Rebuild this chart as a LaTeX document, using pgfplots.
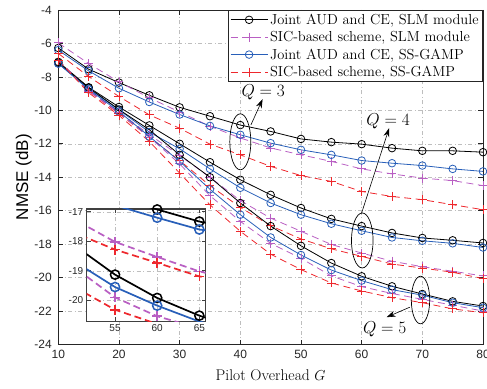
\documentclass[border=0pt]{standalone}
\usepackage{fontspec}
\usepackage{pgfplots}
\usepackage{pgfplotstable}
\pgfplotsset{compat=1.18}
\usetikzlibrary{arrows.meta}
\newfontfamily\arial{Liberation Sans}

\definecolor{slmpurple}{RGB}{185,95,195}
\definecolor{gampblue}{RGB}{40,95,185}
\definecolor{sicred}{RGB}{238,40,45}
\definecolor{gridgray}{RGB}{190,190,190}

% NMSE (dB) versus pilot overhead G
% a = joint AUD and CE (SLM), b = SIC-based (SLM), c = joint AUD and CE (SS-GAMP), d = SIC-based (SS-GAMP)
\pgfplotstableread{
G   a3     b3     c3     d3     a4     b4     c4     d4     a5     b5     c5     d5
10  -6.27  -5.97  -6.40  -6.60  -7.10  -7.00  -7.20  -7.00  -7.15  -7.00  -7.20  -7.00
15  -7.54  -7.20  -7.64  -7.98  -8.62  -8.80  -8.70  -8.85  -8.65  -8.85  -8.75  -8.95
20  -8.34  -8.30  -8.68  -9.17  -9.80  -10.10 -9.97  -10.20 -9.95  -10.15 -10.07 -10.30
25  -9.10  -9.25  -9.50  -10.27 -10.90 -11.45 -11.30 -11.60 -11.16 -11.60 -11.56 -11.86
30  -9.82  -10.10 -10.25 -11.07 -12.00 -12.70 -12.30 -13.00 -12.66 -13.20 -13.05 -13.75
35  -10.35 -10.95 -10.93 -12.02 -13.10 -14.00 -13.50 -14.50 -14.00 -15.10 -14.72 -15.65
40  -10.88 -11.65 -11.46 -12.66 -14.15 -15.40 -14.63 -15.80 -15.54 -16.64 -16.24 -17.23
45  -11.26 -12.25 -11.96 -13.35 -15.05 -16.44 -15.54 -16.90 -16.92 -17.95 -17.60 -18.60
50  -11.71 -12.66 -12.36 -13.90 -15.84 -17.23 -16.24 -17.69 -18.10 -18.85 -18.65 -19.52
55  -11.90 -13.05 -12.66 -14.25 -16.49 -18.02 -16.78 -18.28 -19.13 -19.90 -19.55 -20.32
60  -12.02 -13.50 -13.00 -14.85 -16.92 -18.53 -17.20 -18.73 -19.92 -20.54 -20.18 -20.80
65  -12.26 -13.80 -13.16 -15.15 -17.33 -19.02 -17.60 -19.19 -20.52 -20.95 -20.72 -21.20
70  -12.42 -14.05 -13.30 -15.34 -17.63 -19.35 -17.80 -19.43 -20.98 -21.30 -21.05 -21.50
75  -12.42 -14.20 -13.50 -15.64 -17.77 -19.62 -17.95 -19.68 -21.42 -21.65 -21.50 -21.87
80  -12.50 -14.50 -13.65 -15.94 -17.93 -19.90 -18.20 -20.06 -21.70 -22.00 -21.80 -22.10
}\nmsedata

\pgfplotsset{
  slmjoint/.style={black, line width=0.8pt, mark=o, mark size=3.8pt, mark options={solid, line width=0.8pt}},
  slmsic/.style={slmpurple, line width=0.8pt, dash pattern=on 7pt off 4.5pt, mark=+, mark size=4.5pt, mark options={solid, line width=0.9pt}},
  gampjoint/.style={gampblue, line width=0.8pt, mark=o, mark size=3.8pt, mark options={solid, line width=0.8pt}},
  gampsic/.style={sicred, line width=0.8pt, dash pattern=on 7pt off 4.5pt, mark=+, mark size=4.5pt, mark options={solid, line width=0.9pt}},
}

\begin{document}
\begin{tikzpicture}
\begin{axis}[
  name=main,
  scale only axis,
  width=424.7pt, height=334.5pt,
  xmin=10, xmax=80, ymin=-24, ymax=-4,
  xtick={10,20,...,80}, ytick={-24,-22,...,-4},
  tick align=inside, major tick length=5pt,
  axis line style={line width=0.9pt, black!85},
  every tick/.style={black!85, line width=0.7pt},
  grid=major,
  grid style={gridgray, line width=0.6pt, dash pattern=on 4pt off 2.5pt on 1pt off 2.5pt},
  /pgf/number format/assume math mode=true,
  tick label style={font=\arial\fontsize{12}{14}\selectfont, black!85},
  xticklabel style={yshift=-2.5pt},
  yticklabel style={xshift=-3pt},
  xlabel={Pilot Overhead $G$},
  ylabel={\arial NMSE (dB)},
  every axis x label/.style={at={(rel axis cs:0.5,0)}, yshift=-30.5pt, anchor=center, font=\fontsize{15.5}{18}\selectfont},
  every axis y label/.style={at={(rel axis cs:0,0.5)}, xshift=-34.5pt, rotate=90, anchor=center, font=\fontsize{17}{20}\selectfont},
  legend style={at={(rel axis cs:1,1)}, anchor=north east, font=\fontsize{14.5}{17}\selectfont,
    draw=black!85, line width=0.8pt, inner xsep=2pt, inner ysep=1.5pt, row sep=1.6pt, cells={anchor=west}, fill=white},
  legend image code/.code={\draw[mark repeat=2, mark phase=2] plot coordinates {(0pt,0pt) (18.5pt,0pt) (37pt,0pt)};},
]
% legend-bearing curves (Q = 3)
\addplot[slmjoint]  table[x=G, y=a3] {\nmsedata};
\addlegendentry{Joint AUD and CE, SLM module}
\addplot[slmsic]    table[x=G, y=b3] {\nmsedata};
\addlegendentry{SIC-based scheme, SLM module}
\addplot[gampjoint] table[x=G, y=c3] {\nmsedata};
\addlegendentry{Joint AUD and CE, SS-GAMP}
\addplot[gampsic]   table[x=G, y=d3] {\nmsedata};
\addlegendentry{SIC-based scheme, SS-GAMP}
% Q = 4
\addplot[slmjoint, forget plot]  table[x=G, y=a4] {\nmsedata};
\addplot[slmsic, forget plot]    table[x=G, y=b4] {\nmsedata};
\addplot[gampjoint, forget plot] table[x=G, y=c4] {\nmsedata};
\addplot[gampsic, forget plot]   table[x=G, y=d4] {\nmsedata};
% Q = 5
\addplot[slmjoint, forget plot]  table[x=G, y=a5] {\nmsedata};
\addplot[slmsic, forget plot]    table[x=G, y=b5] {\nmsedata};
\addplot[gampjoint, forget plot] table[x=G, y=c5] {\nmsedata};
\addplot[gampsic, forget plot]   table[x=G, y=d5] {\nmsedata};

% annotations
\draw[line width=0.7pt] (axis cs:40,-11.88) ellipse [x radius=10.5pt, y radius=28pt];
\draw[line width=0.6pt, -{Stealth[length=9pt, width=6pt]}] (axis cs:41.75,-10.87) -- (axis cs:43.67,-9.33);
\node[font=\fontsize{17}{20}\selectfont] at (axis cs:43.77,-8.94) {$Q=3$};

\draw[line width=0.7pt] (axis cs:60.1,-17.78) ellipse [x radius=10.8pt, y radius=27.5pt];
\draw[line width=0.6pt, -{Stealth[length=9pt, width=6pt]}] (axis cs:59.98,-16.15) -- (axis cs:64.53,-11.06);
\node[font=\fontsize{17}{20}\selectfont] at (axis cs:64.37,-10.67) {$Q=4$};

\draw[line width=0.7pt] (axis cs:69.7,-21.34) ellipse [x radius=9.2pt, y radius=23.8pt];
\draw[line width=0.6pt, -{Stealth[length=9pt, width=6pt]}] (axis cs:67.93,-21.77) -- (axis cs:64.1,-22.37);
\node[font=\fontsize{17}{20}\selectfont] at (axis cs:63.8,-23.1) {$Q=5$};

\coordinate (insetpos) at (axis cs:14.68,-22.61);
\end{axis}

% zoomed view of G = 52..65
\begin{axis}[
  at={(insetpos)}, anchor=south west,
  scale only axis,
  width=118.8pt, height=112.4pt,
  xmin=51.64, xmax=65.73, ymin=-20.71, ymax=-16.9,
  xtick={55,60,65}, ytick={-20,-19,-18,-17},
  tick align=inside, major tick length=4pt,
  axis background/.style={fill=white},
  axis line style={line width=1.3pt, black!75},
  every tick/.style={black!75, line width=0.7pt},
  grid=major,
  grid style={gridgray, line width=0.6pt, dash pattern=on 4pt off 2.5pt on 1pt off 2.5pt},
  /pgf/number format/assume math mode=true,
  tick label style={font=\arial\fontsize{10}{12}\selectfont, black!85},
]
\addplot[slmjoint, line width=1.7pt, mark size=4.6pt, mark options={solid, line width=1.5pt}]  table[x=G, y=a4] {\nmsedata};
\addplot[slmsic, line width=1.7pt, mark size=5pt, mark options={solid, line width=1.6pt}, dash pattern=on 7pt off 4pt] table[x=G, y=b4] {\nmsedata};
\addplot[gampjoint, line width=1.7pt, mark size=4.6pt, mark options={solid, line width=1.5pt}] table[x=G, y=c4] {\nmsedata};
\addplot[gampsic, line width=1.7pt, mark size=5pt, mark options={solid, line width=1.6pt}, dash pattern=on 7pt off 4pt] table[x=G, y=d4] {\nmsedata};
\addplot[slmjoint, line width=1.7pt, mark size=4.6pt, mark options={solid, line width=1.5pt}]  table[x=G, y=a5] {\nmsedata};
\addplot[slmsic, line width=1.7pt, mark size=5pt, mark options={solid, line width=1.6pt}, dash pattern=on 7pt off 4pt] table[x=G, y=b5] {\nmsedata};
\addplot[gampjoint, line width=1.7pt, mark size=4.6pt, mark options={solid, line width=1.5pt}] table[x=G, y=c5] {\nmsedata};
\addplot[gampsic, line width=1.7pt, mark size=5pt, mark options={solid, line width=1.6pt}, dash pattern=on 7pt off 4pt] table[x=G, y=d5] {\nmsedata};
\end{axis}

\pgfresetboundingbox
\path ([shift={(-58.3pt,-43.5pt)}]main.south west) rectangle ([shift={(4pt,10pt)}]main.north east);
\end{tikzpicture}
\end{document}
